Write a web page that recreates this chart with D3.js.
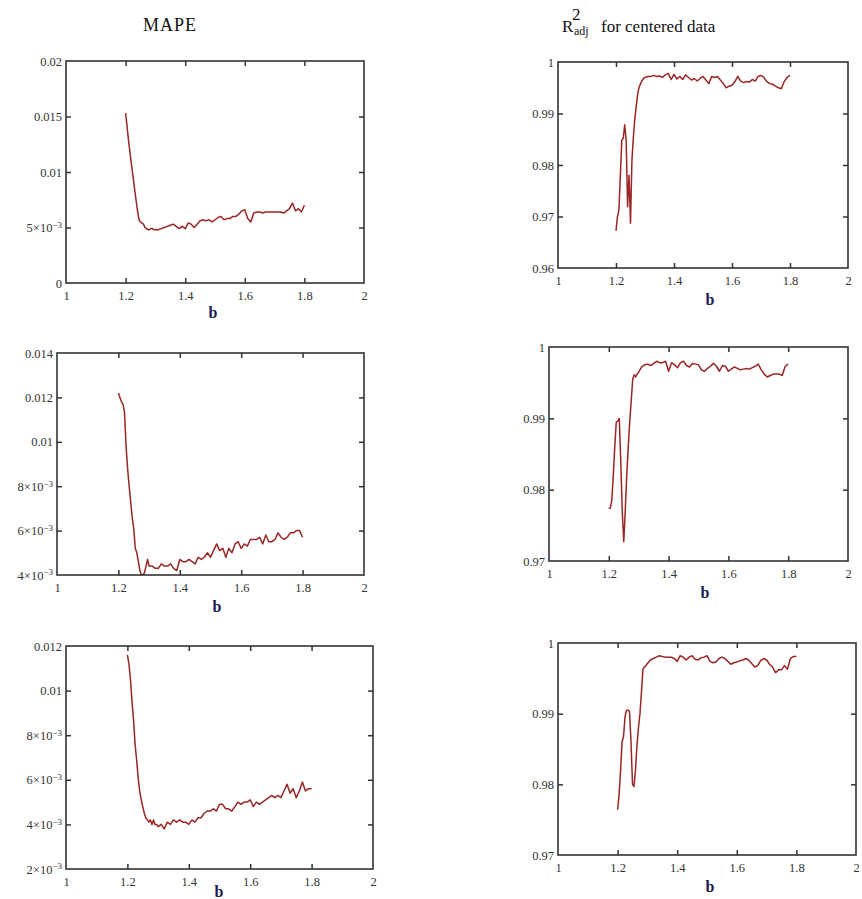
<!DOCTYPE html>
<html>
<head>
<meta charset="utf-8">
<script src="https://cdn.jsdelivr.net/npm/d3@7"></script>
<style>
  html, body { margin: 0; padding: 0; background: #fff; }
  svg { display: block; font-family: "Liberation Serif", serif; }
</style>
</head>
<body>
<svg id="chart" width="862" height="899"></svg>
<script>
// ---------------- DATA ----------------
const bGrid = [1.2,1.205,1.21,1.215,1.22,1.225,1.23,1.235,1.24,1.245,1.25,1.255,1.26,1.265,1.27,1.275,1.28,1.285,1.29,1.295,1.3,
  1.31,1.32,1.33,1.34,1.35,1.36,1.37,1.38,1.39,1.4,
  1.41,1.42,1.43,1.44,1.45,1.46,1.47,1.48,1.49,1.5,
  1.51,1.52,1.53,1.54,1.55,1.56,1.57,1.58,1.59,1.6,
  1.61,1.62,1.63,1.64,1.65,1.66,1.67,1.68,1.69,1.7,
  1.71,1.72,1.73,1.74,1.75,1.76,1.77,1.78,1.79,1.8];

const mape1 = [0.0153,0.0141,0.0128,0.0117,0.0106,0.0096,0.0085,0.0075,0.0065,0.0057,0.0055,0.0054,0.0053,0.0050,0.0049,0.0048,0.0048,0.0049,0.0049,0.0048,0.0048,
  0.0048,0.0049,0.0050,0.0051,0.0052,0.0053,0.0051,0.0049,0.0051,0.0049,
  0.0054,0.0053,0.0050,0.0053,0.0056,0.0057,0.0056,0.0057,0.0055,0.0057,
  0.0059,0.0060,0.0057,0.0058,0.0058,0.0060,0.0060,0.0062,0.0065,0.0066,
  0.0058,0.0055,0.0063,0.0064,0.0064,0.0063,0.0064,0.0064,0.0064,0.0064,
  0.0064,0.0064,0.0063,0.0065,0.0067,0.0072,0.0065,0.0067,0.0064,0.0070];

const r2c1 = [0.9672,0.9700,0.9712,0.9780,0.9848,0.9852,0.9878,0.9849,0.9719,0.9780,0.9687,0.9810,0.9855,0.9890,0.9915,0.9939,0.9952,0.9958,0.9964,0.9968,0.9970,
  0.9972,0.9972,0.9974,0.9972,0.9973,0.9970,0.9975,0.9978,0.9966,0.9976,
  0.9967,0.9972,0.9966,0.9975,0.9970,0.9965,0.9968,0.9963,0.9968,0.9972,
  0.9965,0.9958,0.9972,0.9970,0.9972,0.9965,0.9958,0.9950,0.9953,0.9955,
  0.9962,0.9972,0.9963,0.9960,0.9962,0.9961,0.9966,0.9963,0.9972,0.9974,
  0.9970,0.9962,0.9958,0.9957,0.9953,0.9950,0.9948,0.9962,0.9970,0.9974];

const mape2 = [0.0122,0.0120,0.0118,0.0117,0.0113,0.0098,0.0088,0.0080,0.0073,0.0066,0.0061,0.0052,0.0050,0.0046,0.0042,0.0040,0.0040,0.0041,0.0044,0.0047,0.0044,
  0.0044,0.0043,0.0043,0.0045,0.0044,0.0044,0.0045,0.0043,0.0042,0.0047,
  0.0046,0.0046,0.0047,0.0046,0.0045,0.0048,0.0047,0.0048,0.0050,0.0048,
  0.0051,0.0054,0.0051,0.0052,0.0048,0.0052,0.0050,0.0054,0.0055,0.0052,
  0.0054,0.0053,0.0056,0.0056,0.0056,0.0057,0.0054,0.0058,0.0055,0.0055,
  0.0056,0.0059,0.0057,0.0056,0.0057,0.0059,0.0059,0.0060,0.0060,0.0057];

const r2c2 = [0.9774,0.9774,0.9785,0.9820,0.9860,0.9895,0.9896,0.9900,0.9840,0.9770,0.9727,0.9770,0.9820,0.9860,0.9895,0.9925,0.9955,0.9961,0.9958,0.9962,0.9965,
  0.9972,0.9975,0.9976,0.9974,0.9977,0.9980,0.9978,0.9978,0.9980,0.9966,
  0.9978,0.9975,0.9971,0.9978,0.9980,0.9974,0.9972,0.9977,0.9976,0.9975,
  0.9968,0.9966,0.9970,0.9973,0.9977,0.9973,0.9966,0.9974,0.9973,0.9966,
  0.9969,0.9972,0.9970,0.9968,0.9969,0.9970,0.9969,0.9971,0.9973,0.9976,
  0.9968,0.9962,0.9958,0.9960,0.9962,0.9962,0.9962,0.9960,0.9973,0.9976];

const mape3 = [0.0116,0.0112,0.0105,0.0095,0.0087,0.0076,0.0069,0.0061,0.0055,0.0051,0.0048,0.0045,0.0043,0.0042,0.0041,0.0042,0.0040,0.0042,0.0040,0.0040,0.0039,
  0.0040,0.0038,0.0041,0.0040,0.0042,0.0041,0.0042,0.0041,0.0041,0.0040,
  0.0042,0.0041,0.0043,0.0043,0.0045,0.0046,0.0046,0.0047,0.0046,0.0049,
  0.0049,0.0047,0.0047,0.0046,0.0048,0.0050,0.0049,0.0050,0.0050,0.0051,
  0.0048,0.0050,0.0049,0.0050,0.0051,0.0052,0.0053,0.0052,0.0053,0.0052,
  0.0055,0.0058,0.0054,0.0056,0.0052,0.0055,0.0059,0.0055,0.0056,0.0056];

const r2c3 = [0.9764,0.9785,0.9820,0.9860,0.9868,0.9896,0.9905,0.9905,0.9903,0.9860,0.9800,0.9797,0.9820,0.9855,0.9880,0.9900,0.9930,0.9963,0.9966,0.9968,0.9971,
  0.9976,0.9978,0.9980,0.9982,0.9981,0.9980,0.9980,0.9980,0.9978,0.9974,
  0.9982,0.9980,0.9976,0.9980,0.9982,0.9977,0.9976,0.9979,0.9980,0.9982,
  0.9974,0.9972,0.9973,0.9978,0.9980,0.9978,0.9974,0.9970,0.9972,0.9973,
  0.9975,0.9976,0.9978,0.9976,0.9971,0.9966,0.9968,0.9975,0.9978,0.9976,
  0.9970,0.9966,0.9958,0.9962,0.9962,0.9968,0.9963,0.9978,0.9981,0.9981];

const xTicks = [1, 1.2, 1.4, 1.6, 1.8, 2];
const xTickLabels = ["1", "1.2", "1.4", "1.6", "1.8", "2"];

const mapeTicks1 = [0, 0.005, 0.01, 0.015, 0.02];
const mapeLabels1 = ["0", "5×10|−3", "0.01", "0.015", "0.02"];
const mapeTicks2 = [0.004, 0.006, 0.008, 0.01, 0.012, 0.014];
const mapeLabels2 = ["4×10|−3", "6×10|−3", "8×10|−3", "0.01", "0.012", "0.014"];
const mapeTicks3 = [0.002, 0.004, 0.006, 0.008, 0.01, 0.012];
const mapeLabels3 = ["2×10|−3", "4×10|−3", "6×10|−3", "8×10|−3", "0.01", "0.012"];

const r2Ticks1 = [0.96, 0.97, 0.98, 0.99, 1];
const r2Labels1 = ["0.96", "0.97", "0.98", "0.99", "1"];
const r2Ticks2 = [0.97, 0.98, 0.99, 1];
const r2Labels2 = ["0.97", "0.98", "0.99", "1"];
const r2Ticks3 = [0.97, 0.98, 0.99, 1];
const r2Labels3 = ["0.97", "0.98", "0.99", "1"];

const xLabel = "b";

// ---------------- LAYOUT ----------------
const SERIF = "'Liberation Serif', 'Times New Roman', serif";
const panels = [
  { box: [66, 364, 61, 283],  vals: mape1, ticks: mapeTicks1, labels: mapeLabels1, bx: 213, by: 318 },
  { box: [558, 848, 62, 268], vals: r2c1,  ticks: r2Ticks1,   labels: r2Labels1,   bx: 710, by: 305 },
  { box: [57, 364, 353, 575], vals: mape2, ticks: mapeTicks2, labels: mapeLabels2, bx: 217, by: 612 },
  { box: [549, 848, 347, 561],vals: r2c2,  ticks: r2Ticks2,   labels: r2Labels2,   bx: 705, by: 598 },
  { box: [66, 373, 646, 869], vals: mape3, ticks: mapeTicks3, labels: mapeLabels3, bx: 219, by: 897 },
  { box: [558, 856, 643, 855],vals: r2c3,  ticks: r2Ticks3,   labels: r2Labels3,   bx: 710, by: 892 }
];

const svg = d3.select("#chart");
const axisColor = "#333";
const textColor = "#333";
const lineColor = "#9a2626";

panels.forEach((p, i) => {
  const [x0, x1, y0, y1] = p.box;
  const x = d3.scaleLinear().domain([xTicks[0], xTicks[xTicks.length - 1]]).range([x0, x1]);
  const y = d3.scaleLinear().domain([p.ticks[0], p.ticks[p.ticks.length - 1]]).range([y1, y0]);
  const g = svg.append("g");

  const cid = "clip" + i;
  svg.append("clipPath").attr("id", cid).append("rect")
    .attr("x", x0).attr("y", y0).attr("width", x1 - x0).attr("height", y1 - y0);

  const line = d3.line().x((d, k) => x(bGrid[k])).y(d => y(d));
  g.append("path").datum(p.vals)
    .attr("clip-path", `url(#${cid})`)
    .attr("fill", "none").attr("stroke", lineColor)
    .attr("stroke-width", 1.5).attr("stroke-linejoin", "round")
    .attr("d", line);

  const innerX = xTicks.slice(1, -1);
  const innerY = p.ticks.slice(1, -1);

  const bottom = g.append("g").attr("transform", `translate(0,${y1})`)
    .call(d3.axisBottom(x).tickValues(xTicks).tickSize(-5).tickPadding(8)
      .tickFormat((d, k) => xTickLabels[k]));
  const left = g.append("g").attr("transform", `translate(${x0},0)`)
    .call(d3.axisLeft(y).tickValues(p.ticks).tickSize(-5).tickPadding(4)
      .tickFormat((d, k) => p.labels[k]));
  const top = g.append("g").attr("transform", `translate(0,${y0})`)
    .call(d3.axisTop(x).tickValues(innerX).tickSize(-5).tickFormat(""));
  const right = g.append("g").attr("transform", `translate(${x1},0)`)
    .call(d3.axisRight(y).tickValues(innerY).tickSize(-5).tickFormat(""));

  [bottom, left, top, right].forEach(a => {
    a.attr("font-family", SERIF).attr("font-size", 12.5);
    a.select(".domain").remove();
    a.selectAll(".tick line").attr("stroke", axisColor).attr("stroke-width", 1.5);
    a.selectAll(".tick text").attr("fill", textColor);
  });
  bottom.selectAll(".tick line").filter(d => d === xTicks[0] || d === xTicks[xTicks.length - 1]).remove();
  left.selectAll(".tick line").filter(d => d === p.ticks[0] || d === p.ticks[p.ticks.length - 1]).remove();

  left.selectAll(".tick text").each(function () {
    const t = d3.select(this);
    const s = t.text();
    if (s.indexOf("|") >= 0) {
      const [m, e] = s.split("|");
      t.text(null);
      t.append("tspan").text(m);
      t.append("tspan").attr("dy", "-0.45em").attr("font-size", 9).text(e);
    }
  });

  g.append("rect").attr("x", x0).attr("y", y0)
    .attr("width", x1 - x0).attr("height", y1 - y0)
    .attr("fill", "none").attr("stroke", axisColor).attr("stroke-width", 1.6);

  g.append("text").attr("x", p.bx).attr("y", p.by)
    .attr("text-anchor", "middle").attr("font-size", 16).attr("font-weight", "bold")
    .attr("fill", "#1c2050").text(xLabel);
});

svg.append("text").attr("x", 170).attr("y", 31).attr("text-anchor", "middle")
  .attr("font-size", 18).attr("letter-spacing", 1).attr("fill", "#111").text("MAPE");

const tR = svg.append("g").attr("fill", "#111");
tR.append("text").attr("x", 562).attr("y", 32).attr("font-size", 17).text("R");
tR.append("text").attr("x", 572).attr("y", 20).attr("font-size", 17).text("2");
tR.append("text").attr("x", 574).attr("y", 35).attr("font-size", 12).text("adj");
tR.append("text").attr("x", 601).attr("y", 32).attr("font-size", 17).text("for centered data");

svg.selectAll("text").style("font-family", SERIF);
</script>
</body>
</html>
